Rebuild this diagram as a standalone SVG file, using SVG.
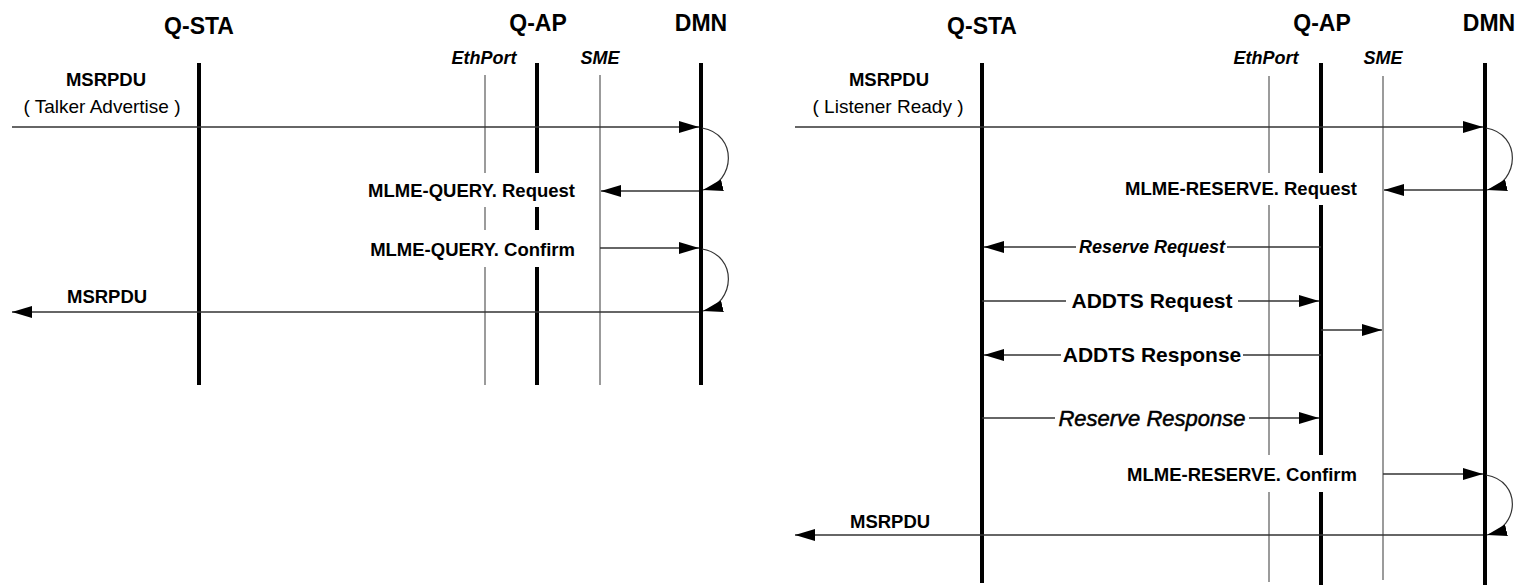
<svg xmlns="http://www.w3.org/2000/svg" width="1518" height="585" viewBox="0 0 1518 585">
<style>
.title{font-family:"Liberation Sans",Arial,sans-serif;font-weight:bold;font-size:23px;fill:#000;text-anchor:middle}
.sub{font-family:"Liberation Sans",Arial,sans-serif;font-weight:bold;font-style:italic;font-size:18px;fill:#000;text-anchor:middle}
.lbl{font-family:"Liberation Sans",Arial,sans-serif;font-weight:bold;font-size:18.5px;fill:#000}
.reg{font-family:"Liberation Sans",Arial,sans-serif;font-size:19px;fill:#000;text-anchor:middle}
.big{font-family:"Liberation Sans",Arial,sans-serif;font-weight:bold;font-size:21px;fill:#000;text-anchor:middle}
.itb{font-family:"Liberation Sans",Arial,sans-serif;font-weight:bold;font-style:italic;font-size:18px;fill:#000;text-anchor:middle}
.it{font-family:"Liberation Sans",Arial,sans-serif;font-style:italic;font-size:22px;fill:#000;stroke:#000;stroke-width:0.5;text-anchor:middle}
.life{stroke:#000;stroke-width:4;fill:none}
.thin{stroke:#7a7a7a;stroke-width:1.5;fill:none}
.msg{stroke:#333;stroke-width:1.3;fill:none;marker-end:url(#ah)}
.loop{stroke:#333;stroke-width:1.2;fill:none;marker-end:url(#ah)}
.bg{fill:#fff}
</style>
<defs>
<marker id="ah" viewBox="0 0 20 12" refX="20" refY="6" markerWidth="20" markerHeight="12" markerUnits="userSpaceOnUse" orient="auto">
<path d="M0,0 L20,6 L0,12 z" fill="#000"/>
</marker>
</defs>
<rect width="1518" height="585" fill="#fff"/>

<!-- Left diagram nodes -->
<g id="L-QSTA"><text class="title" x="199" y="34">Q-STA</text><line class="life" x1="199" y1="63" x2="199" y2="385"/></g>
<g id="L-EthPort"><text class="sub" x="484" y="64">EthPort</text><line class="thin" x1="485" y1="75" x2="485" y2="385"/></g>
<g id="L-QAP"><text class="title" x="538" y="31">Q-AP</text><line class="life" x1="537" y1="63" x2="537" y2="385"/></g>
<g id="L-SME"><text class="sub" x="600" y="64">SME</text><line class="thin" x1="600" y1="75" x2="600" y2="385"/></g>
<g id="L-DMN"><text class="title" x="701" y="31">DMN</text><line class="life" x1="701" y1="63" x2="701" y2="385"/></g>

<!-- Right diagram nodes -->
<g id="R-QSTA"><text class="title" x="982" y="34">Q-STA</text><line class="life" x1="982" y1="63" x2="982" y2="583"/></g>
<g id="R-EthPort"><text class="sub" x="1266" y="64">EthPort</text><line class="thin" x1="1269" y1="76" x2="1269" y2="582"/></g>
<g id="R-QAP"><text class="title" x="1322" y="31">Q-AP</text><line class="life" x1="1321" y1="63" x2="1321" y2="585"/></g>
<g id="R-SME"><text class="sub" x="1383" y="64">SME</text><line class="thin" x1="1383" y1="76" x2="1383" y2="580"/></g>
<g id="R-DMN"><text class="title" x="1489" y="31">DMN</text><line class="life" x1="1485" y1="63" x2="1485" y2="585"/></g>

<g id="connectors">
<!-- Left -->
<g id="L-msg1"><text class="lbl" x="106" y="86" text-anchor="middle">MSRPDU</text><text class="reg" x="102" y="113">( Talker Advertise )</text>
<line class="msg" x1="12" y1="127" x2="699" y2="127"/></g>
<path class="loop" d="M702,128 C738,134 736,182 703,190"/>
<g id="L-msg2"><rect class="bg" x="362" y="173" width="217" height="34"/><text class="lbl" x="575" y="197" text-anchor="end">MLME-QUERY. Request</text>
<line class="msg" x1="699" y1="191" x2="601" y2="191"/></g>
<g id="L-msg3"><rect class="bg" x="362" y="230" width="217" height="37"/><text class="lbl" x="575" y="256" text-anchor="end">MLME-QUERY. Confirm</text>
<line class="msg" x1="600" y1="248" x2="699" y2="248"/></g>
<path class="loop" d="M702,249 C738,255 736,303 703,311"/>
<g id="L-msg4"><text class="lbl" x="67" y="303">MSRPDU</text>
<line class="msg" x1="699" y1="312" x2="12" y2="312"/></g>

<!-- Right -->
<g id="R-msg1"><text class="lbl" x="889" y="86" text-anchor="middle">MSRPDU</text><text class="reg" x="888" y="113">( Listener Ready )</text>
<line class="msg" x1="795" y1="127" x2="1483" y2="127"/></g>
<path class="loop" d="M1486,128 C1522,134 1520,182 1487,190"/>
<g id="R-msg2"><rect class="bg" x="1124" y="173" width="237" height="32"/><text class="lbl" x="1357" y="195" text-anchor="end">MLME-RESERVE. Request</text>
<line class="msg" x1="1483" y1="190" x2="1384" y2="190"/></g>
<g id="R-msg3"><line class="msg" x1="1321" y1="247" x2="984" y2="247"/><rect class="bg" x="1076" y="236" width="151" height="22"/><text class="itb" x="1152" y="253">Reserve Request</text></g>
<g id="R-msg4"><line class="msg" x1="982" y1="301" x2="1319" y2="301"/><rect class="bg" x="1066" y="289" width="172" height="24"/><text class="big" x="1152" y="308">ADDTS Request</text></g>
<g id="R-msg5"><line class="msg" x1="1321" y1="330" x2="1382" y2="330"/></g>
<g id="R-msg6"><line class="msg" x1="1321" y1="355" x2="984" y2="355"/><rect class="bg" x="1061" y="343" width="182" height="24"/><text class="big" x="1152" y="362">ADDTS Response</text></g>
<g id="R-msg7"><line class="msg" x1="982" y1="418" x2="1319" y2="418"/><rect class="bg" x="1055" y="405" width="194" height="26"/><text class="it" x="1152" y="426">Reserve Response</text></g>
<g id="R-msg8"><rect class="bg" x="1124" y="455" width="237" height="37"/><text class="lbl" x="1357" y="481" text-anchor="end">MLME-RESERVE. Confirm</text>
<line class="msg" x1="1383" y1="474" x2="1483" y2="474"/></g>
<path class="loop" d="M1486,475 C1522,481 1520,527 1487,535"/>
<g id="R-msg9"><text class="lbl" x="850" y="528">MSRPDU</text>
<line class="msg" x1="1483" y1="535" x2="795" y2="535"/></g>
</g>
</svg>
